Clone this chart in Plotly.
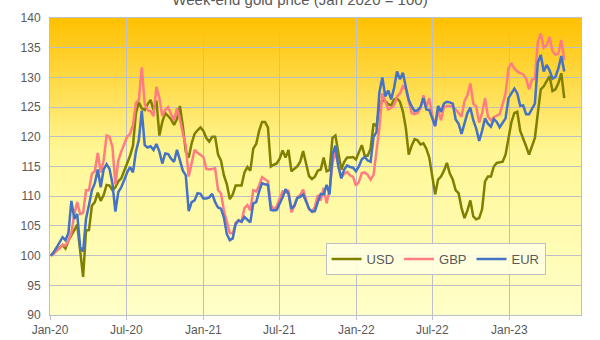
import plotly.graph_objects as go
import pandas as pd

title = "Week-end gold price (Jan 2020 = 100)"
start_date = "2020-01-03"
series_names = ["USD", "GBP", "EUR"]

usd = [100, 100.4, 100.8, 101.3, 101.8, 101.2, 102.5, 103.5, 104.3, 105.2,
       100.5, 96.4, 104.2, 104.3, 108.4, 109, 110.6, 109.2, 110.2, 111.9,
       111.8, 111, 111.5, 112.5, 113, 114.2, 115.5, 116.8, 118.5, 124,
       125.8, 124.8, 124.5, 125.5, 126.2, 124.5, 126.1, 120.2, 122.5, 124,
       123.5, 122.9, 122, 123, 125.2, 121.8, 117.5, 116.5, 118.9, 120.5,
       121.1, 121.6, 121, 119.8, 119.2, 120, 120, 117, 116, 113.5,
       112, 109.5, 110.3, 111.8, 111.8, 111.8, 114, 114.9, 114.3, 118,
       118.8, 121, 122.5, 122.5, 121.6, 115, 115.3, 115.5, 116.3, 117.7,
       116.5, 117.8, 114.2, 114.6, 115, 115.8, 117.6, 115.5, 113.4, 112.9,
       113.3, 114.3, 114.5, 116.5, 114.2, 114.4, 119.8, 120.2, 117, 114.5,
       115.8, 116.5, 116.5, 116.6, 116.2, 117.5, 118.6, 116.8, 116.8, 118,
       122.2, 121.8, 125, 126.2, 126, 125.5, 125.3, 126.3, 126.5, 125.9,
       124.3, 121.5, 117, 118.5, 119.6, 119.4, 118.7, 118.9, 118, 116.5,
       113.2, 110.3, 112.8, 113.3, 114.3, 115.6, 113.8, 112.8, 111, 110.5,
       108, 106.3, 107.6, 109.3, 106.6, 106.1, 106.3, 107.8, 112.5, 113.3,
       113.3, 115, 115.6, 115.7, 115.8, 117, 119.5, 122.5, 124, 124.2,
       121, 119.8, 118.4, 117, 118.5, 119.8, 124, 128, 128.5, 129.3,
       130.2, 127.7, 128, 129, 130.7, 126.5]

gbp = [100, 100.3, 100.9, 101.2, 101.8, 101.7, 102.5, 103.8, 107, 109,
       107, 107.2, 111, 111, 113.8, 114.2, 117.3, 114, 116, 120.2,
       120, 118.3, 112, 116, 117.5, 118.8, 120, 120.5, 122, 125.7,
       126.2, 131.7, 125.5, 124.5, 124.3, 123.5, 128.4, 126.5, 123.5, 124.5,
       125, 123.8, 122.8, 124.8, 123, 120.6, 118.5, 113.3, 115.8, 117.8,
       117.3, 116.9, 116.6, 114.6, 114.5, 114.6, 114.7, 111, 110.5, 107.6,
       105.5, 103.8, 103.7, 105.5, 106, 105.7, 108, 108.5, 107.6, 111,
       110.8, 111.8, 113.2, 112.8, 112.5, 108.5, 107.8, 108.3, 109.5, 110.8,
       110.6, 111, 107.3, 108.3, 109.8, 110.2, 111.1, 109.5, 107.8, 107.4,
       108.2, 110.2, 109.3, 111.4, 108.8, 111, 115.5, 117.4, 115, 113.1,
       113.8, 114.1, 113.5, 113.3, 111.8, 112.4, 113.9, 114, 113.6, 112.8,
       113.6, 117.8, 121.5, 127.3, 125.9, 124.6, 124.9, 125.3, 126.8, 127.3,
       128.5, 128, 126, 124, 123.8, 124, 124.8, 127, 125, 126.5,
       123.6, 121.8, 124.5, 122.8, 125, 125.2, 125.2, 125.1, 124.6, 124,
       123.4, 126, 127, 129, 125.6, 125.1, 122.4, 124, 126.5, 123.4,
       122.8, 123.3, 123.6, 123.8, 125.5, 127.3, 131.5, 132.4, 131.5, 131,
       130.7, 130.5, 129.8, 128, 129.6, 129.8, 136, 137.4, 135, 135.4,
       136.8, 134.4, 133.8, 134, 136.3, 132.9]

eur = [100, 100.6, 101.4, 102.3, 103.1, 102.6, 103.8, 109.2, 106.2, 107,
       101.4, 100.7, 106.2, 108.5, 111, 112.2, 114.5, 111.5, 114.5, 115.4,
       114.6, 112.1, 107.4, 110.7, 111.5, 112.7, 114, 114.9, 114, 117.5,
       119.5, 124.4, 118.6, 118.2, 118.4, 117.8, 118.8, 117.5, 115.5, 117.2,
       117.1, 116.3, 115.8, 117.8, 115.8, 114.3, 113.5, 107.5, 109, 109.3,
       110.5, 110.4, 109.6, 109.6, 109.8, 110.4, 109, 108.1, 107.9, 106.4,
       103.6, 102.6, 102.9, 105.3, 105.9, 105.7, 106.5, 106.1, 105.6, 108.8,
       109, 110.8, 112.2, 112, 111.9, 107.7, 107.6, 107.7, 108.7, 109.8,
       111.2, 110.4, 107.9, 108.4, 109.7, 109.9, 110.3, 109.1, 107.9, 107.4,
       107.5, 109, 110.4, 110.3, 111.9, 110.3, 117, 118.5, 115, 113,
       114.5, 115.2, 114.9, 114.8, 114.2, 115, 116.2, 116.6, 116, 115.8,
       120, 120.8, 127.5, 130, 126.8, 127.8, 126.3, 128.2, 131, 129.7,
       130.8, 128.4, 126.2, 125.1, 124.3, 124.5, 125, 126.5, 124.6, 124.5,
       123.2, 121.8, 125.2, 124.2, 125.6, 125.9, 125.8, 125.6, 122.9, 122.2,
       120.5, 122.2, 124, 124.9, 122.8, 121.4, 119.3, 121, 123.1, 122.2,
       121.7, 123, 122.5, 121.6, 122.3, 123.1, 126.5, 127.3, 128.1, 127.3,
       125.2, 125.3, 123.8, 123.8, 124.7, 125.6, 132.5, 133.8, 131, 132.1,
       131.2, 129.8, 130.1, 131.5, 133.6, 131]

dates = pd.date_range(start_date, periods=len(usd), freq="7D")
colors = {"USD": "#7F7F00", "GBP": "#FF7C80", "EUR": "#4472C4"}

fig = go.Figure()
for name, vals in zip(series_names, [usd, gbp, eur]):
    fig.add_trace(go.Scatter(x=dates, y=vals, mode="lines", name=name,
                             line=dict(color=colors[name], width=2.5)))

# vertical gradient background of plot area (overlapping strips, no seams)
def lerp(c1, c2, t):
    return tuple(round(a + (b - a) * t) for a, b in zip(c1, c2))

stops = [(0.0, (255, 192, 0)), (0.45, (255, 247, 150)), (1.0, (255, 255, 200))]
n = 100
shapes = []
for k in range(n):
    f = (k + 0.5) / n  # 0 at top
    for (p0, c0), (p1, c1) in zip(stops[:-1], stops[1:]):
        if p0 <= f <= p1:
            col = lerp(c0, c1, (f - p0) / (p1 - p0))
            break
    y1 = 1 - k / n
    y0 = max(0, 1 - (k + 1) / n - 0.6 / n)
    shapes.append(dict(type="rect", xref="paper", yref="paper",
                       x0=0, x1=1, y0=y0, y1=y1,
                       fillcolor="rgb(%d,%d,%d)" % col, line=dict(width=0),
                       layer="below"))

grid = "#BDBFC6"
font = dict(family="Liberation Sans, Arial, sans-serif", size=12, color="#595959")
fig.update_layout(
    width=600, height=340,
    margin=dict(l=50, r=19, t=18, b=25, autoexpand=False),
    paper_bgcolor="white", plot_bgcolor="rgba(0,0,0,0)",
    font=font,
    shapes=shapes,
    title=dict(text=title, x=0.5, xanchor="center", y=1.0, yanchor="middle",
               font=dict(size=15, color="#595959")),
    xaxis=dict(range=["2020-01-01", "2023-06-21"], tick0="2020-01-01", dtick="M6",
               tickformat="%b-%y", showgrid=True, gridcolor=grid, gridwidth=1,
               ticks="outside", ticklen=4, tickcolor=grid, automargin=False,
               showline=True, linecolor=grid, mirror=True, zeroline=False),
    yaxis=dict(range=[90, 140], dtick=5, showgrid=True, gridcolor=grid,
               showline=True, linecolor=grid, mirror=True, zeroline=False,
               ticks="", ticklabelstandoff=6, automargin=False),
    legend=dict(orientation="h", x=0.519, y=0.242, xanchor="left", yanchor="top",
                bgcolor="rgba(255,255,225,0.9)", bordercolor="#BFBFBF", borderwidth=1,
                font=dict(size=13, color="#595959"), itemwidth=30),
    showlegend=True,
)
fig.write_html("out.html")
